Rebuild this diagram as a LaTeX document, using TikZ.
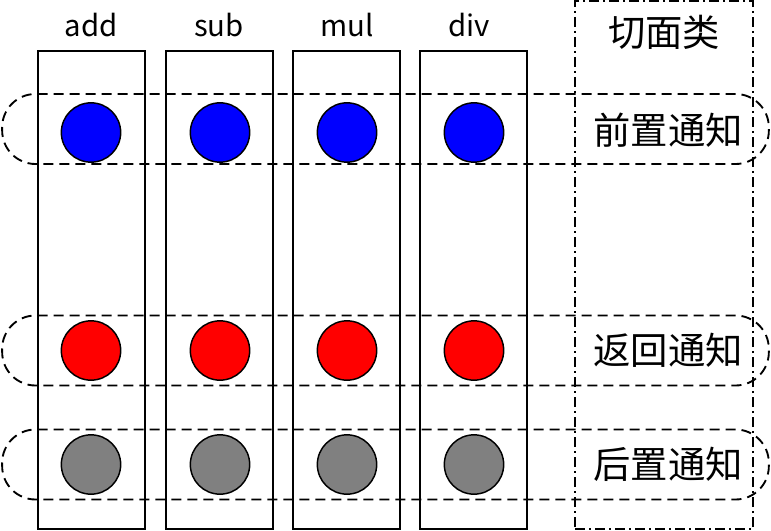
\documentclass[tikz,border=0pt]{standalone}
\usepackage{fontspec}
\setmainfont{Noto Sans CJK SC}
\begin{document}
\begin{tikzpicture}[x=0.75pt,y=-0.75pt,
  colbox/.style={draw=black,line width=1.5pt,minimum width=80.25pt,minimum height=358.5pt,inner sep=0pt},
  dot/.style={circle,draw=black,line width=1.1pt,minimum size=44.5pt,inner sep=0pt},
  rowband/.style={draw=black,line width=1.4pt,dash pattern=on 7.5pt off 4.5pt,rounded corners=25pt,minimum width=575pt,minimum height=52.5pt,inner sep=0pt},
  aspectbox/.style={draw=black,line width=1.4pt,dash pattern=on 7.5pt off 3pt on 1.5pt off 3pt,minimum width=133.5pt,minimum height=396pt,inner sep=0pt},
  collabel/.style={font=\fontsize{22pt}{24pt}\selectfont,inner sep=0pt},
  rowlabel/.style={font=\fontsize{28pt}{30pt}\selectfont,inner sep=0pt}]
\useasboundingbox (0,0) rectangle (771,531);
% columns
\node[colbox] (cAdd) at (91.5,290) {};
\node[colbox] (cSub) at (219.5,290) {};
\node[colbox] (cMul) at (346.5,290) {};
\node[colbox] (cDiv) at (473.5,290) {};
\node[collabel] (lAdd) at (91,25) {add};
\node[collabel] (lSub) at (219,25) {sub};
\node[collabel] (lMul) at (347,25) {mul};
\node[collabel] (lDiv) at (469,25) {div};
% aspect class box
\node[aspectbox] (aspect) at (664,265) {};
\node[rowlabel] (lAspect) at (664,32) {切面类};
% row bands
\node[rowband] (rBefore) at (385.5,129) {};
\node[rowband] (rReturn) at (385.5,350.5) {};
\node[rowband] (rAfter) at (385.5,464.5) {};
\node[rowlabel] (tBefore) at (668,130) {前置通知};
\node[rowlabel] (tReturn) at (668,350) {返回通知};
\node[rowlabel] (tAfter) at (668,464) {后置通知};
% dots
\foreach \n/\x in {a/91,s/220,m/347,d/474}{
  \node[dot,fill=blue] (b\n) at (\x,132.5) {};
  \node[dot,fill=red] (r\n) at (\x,350.5) {};
  \node[dot,fill=gray] (g\n) at (\x,464.5) {};
}
\end{tikzpicture}
\end{document}
